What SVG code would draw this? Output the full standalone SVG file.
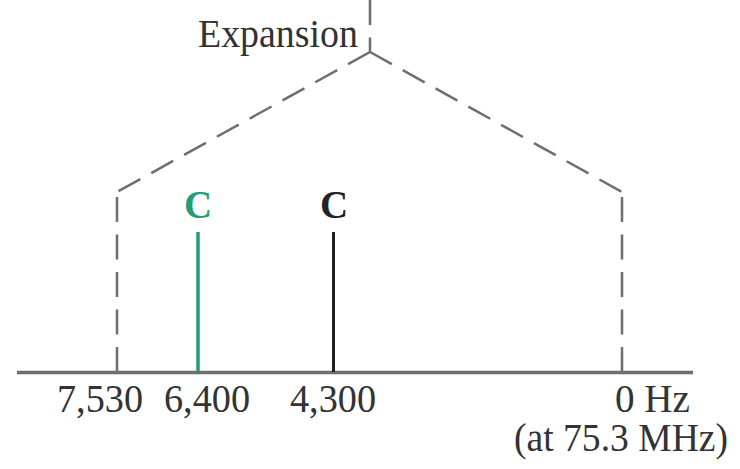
<svg xmlns="http://www.w3.org/2000/svg" width="740" height="469" viewBox="0 0 740 469">
<style>
.t{font-family:"Liberation Serif","Times New Roman",serif;font-size:39px;fill:#333}
.c{font-family:"Liberation Serif","Times New Roman",serif;font-size:39px;font-weight:bold;text-anchor:middle}
.d{stroke:#6e6e6e;stroke-width:2.5;fill:none;stroke-dasharray:25 12.5}
</style>
<rect width="740" height="469" fill="#fff"/>
<g id="connectors">
<line x1="370" y1="0" x2="370" y2="52" class="d" stroke-dasharray="14 14 22 2"/>
<path d="M370 52 L117 192" class="d" stroke-dasharray="22 12"/>
<path d="M370 52 L622 192" class="d" stroke-dasharray="22 12"/>
<line x1="117" y1="372" x2="117" y2="194" class="d"/>
<line x1="622" y1="372" x2="622" y2="194" class="d"/>
</g>
<g id="axis">
<line x1="17" y1="372.5" x2="693" y2="372.5" stroke="#6e6e6e" stroke-width="3.5"/>
</g>
<g id="expansion">
<text class="t" x="198" y="47" textLength="160" lengthAdjust="spacingAndGlyphs">Expansion</text>
</g>
<g id="carrier-green">
<line x1="198" y1="232" x2="198" y2="372" stroke="#1f9e78" stroke-width="3.5"/>
<text class="c" x="198" y="218" fill="#1f9e78">C</text>
</g>
<g id="carrier-black">
<line x1="333.5" y1="232" x2="333.5" y2="372" stroke="#222" stroke-width="3"/>
<text class="c" x="334" y="218" fill="#222">C</text>
</g>
<g id="labels">
<text class="t" x="57" y="412" textLength="86" lengthAdjust="spacingAndGlyphs">7,530</text>
<text class="t" x="164" y="412" textLength="86" lengthAdjust="spacingAndGlyphs">6,400</text>
<text class="t" x="290" y="412" textLength="86" lengthAdjust="spacingAndGlyphs">4,300</text>
<text class="t" x="615" y="412" textLength="75" lengthAdjust="spacingAndGlyphs">0 Hz</text>
<text class="t" x="514" y="451" textLength="214" lengthAdjust="spacingAndGlyphs">(at 75.3 MHz)</text>
</g>
</svg>
